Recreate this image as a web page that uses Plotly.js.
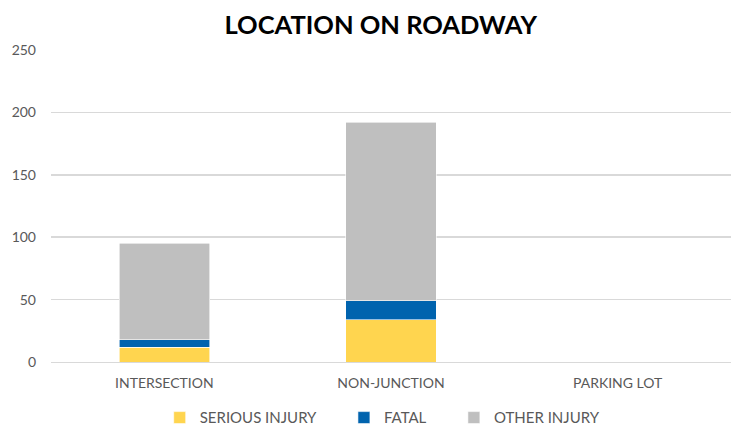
<!DOCTYPE html>
<html><head><meta charset="utf-8">
<script src="https://cdn.plot.ly/plotly-3.0.1.min.js"></script>
<style>body{margin:0;background:#fff}#c{width:735px;height:433px}</style>
</head><body><div id="c"></div>
<script>
const categories = ["INTERSECTION", "NON-JUNCTION", "PARKING LOT"];
const seriousInjury = [12, 34, 0];
const fatal = [6, 15, 0];
const otherInjury = [77, 143, 0];
const yTicks = [0, 50, 100, 150, 200, 250];
const seriesNames = ["SERIOUS INJURY", "FATAL", "OTHER INJURY"];

const pad = '&nbsp;'.repeat(6);
const mk = (name, y, color) => ({
  type: 'bar', name: name, x: categories, y: y,
  marker: {color: color, line: {color: '#ffffff', width: 0.6}},
  hoverinfo: 'skip'
});
const data = [
  mk(seriesNames[0] + pad, seriousInjury, '#FFD54F'),
  mk(seriesNames[1] + pad, fatal, '#0063AE'),
  mk(seriesNames[2], otherInjury, '#BFBFBF')
];
const layout = {
  width: 735, height: 433,
  margin: {l: 51, r: 4, t: 50, b: 71},
  barmode: 'stack', bargap: 0.6,
  paper_bgcolor: '#fff', plot_bgcolor: '#fff',
  font: {family: 'Lato, "Open Sans", sans-serif', color: '#595959', size: 14},
  title: {text: '<b>LOCATION ON ROADWAY</b>', xref: 'container', x: 0.518, xanchor: 'center',
          yref: 'container', y: 0.942, yanchor: 'middle',
          font: {family: 'Lato, "Open Sans", sans-serif', size: 25.5, color: '#000'}},
  xaxis: {type: 'category', showgrid: false, zeroline: false, showline: true, linecolor: '#d9d9d9', linewidth: 1,
          ticks: '', ticklabelstandoff: 8, tickfont: {size: 14, color: '#595959'}},
  yaxis: {range: [0, 250], tickvals: yTicks, showgrid: true, gridcolor: '#d9d9d9', gridwidth: 1.5,
          zeroline: false, ticks: '', ticklabelstandoff: 14, tickfont: {size: 14, color: '#595959'}},
  showlegend: true,
  legend: {orientation: 'h', xref: 'container', x: 0.52, xanchor: 'center',
           yref: 'container', y: 0.035, yanchor: 'middle',
           traceorder: 'normal', font: {size: 15, color: '#595959'}, itemwidth: 30}
};
Plotly.newPlot('c', data, layout, {displayModeBar: false, staticPlot: true});
</script></body></html>
